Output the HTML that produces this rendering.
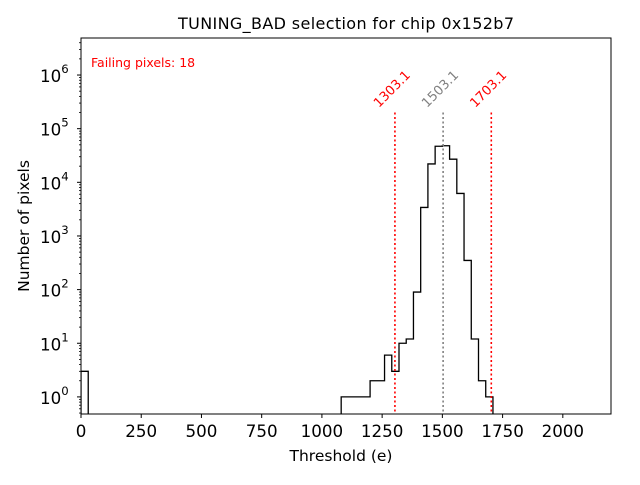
<!DOCTYPE html>
<html><head><meta charset="utf-8"><style>
html,body{margin:0;padding:0;background:#fff}
svg text{font-family:"DejaVu Sans","Liberation Sans",sans-serif}
</style></head><body>
<svg id="chart" width="640" height="480" xmlns="http://www.w3.org/2000/svg">
<rect width="640" height="480" fill="#fff"/>
<text x="346" y="29" text-anchor="middle" font-size="16" textLength="336">TUNING_BAD selection for chip 0x152b7</text>
<text x="341" y="461" text-anchor="middle" font-size="15.5">Threshold (e)</text>
<text transform="translate(29,226) rotate(-90)" text-anchor="middle" font-size="15.5">Number of pixels</text>
<text x="91" y="67" font-size="12.5" fill="red">Failing pixels: 18</text>
<g id="marks"></g>
<g id="axes"></g>
<rect x="81" y="38" width="530" height="376" fill="none" stroke="#000" stroke-width="1"/>
</svg>
<script>
const binEdges = [0,30,1080,1110,1140,1170,1200,1230,1260,1290,1320,1350,1380,1410,1440,1470,1500,1530,1560,1590,1620,1650,1680,1710];
const binCounts = [3,0,1,1,1,1,2,2,6,3,10,12,90,3400,22000,47000,48000,27000,6200,350,12,2,1];
const xTicks = [0,250,500,750,1000,1250,1500,1750,2000];
const yTickExps = [0,1,2,3,4,5,6];
const vLines = [1303.1,1503.1,1703.1];
const vLineColors = ['red','gray','red'];

const X0=81,X1=611,Y0=414,Y1=38,XMAX=2200,YMIN=Math.log10(0.48),YMAX=Math.log10(4.9e6);
const xs=v=>X0+(v/XMAX)*(X1-X0);
const ys=v=>Y0-(Math.log10(Math.max(v,1e-9))-YMIN)/(YMAX-YMIN)*(Y0-Y1);
const NS='http://www.w3.org/2000/svg';
const marks=document.getElementById('marks'), axes=document.getElementById('axes');
function mk(tag,attrs,parent){const e=document.createElementNS(NS,tag);for(const k in attrs)e.setAttribute(k,attrs[k]);parent.appendChild(e);return e;}

let d='';
for(let i=0;i<binCounts.length;i++){
  const c=binCounts[i];
  const xa=xs(binEdges[i]),xb=xs(binEdges[i+1]);
  const y=c>0?ys(c):Y0+2;
  const prev=i>0?binCounts[i-1]:0;
  if(c>0){
    if(prev>0){d+=`L${xa},${y}L${xb},${y}`;}
    else{d+=`M${xa},${Y0+2}L${xa},${y}L${xb},${y}`;}
    const next=i<binCounts.length-1?binCounts[i+1]:0;
    if(next<=0)d+=`L${xb},${Y0+2}`;
  }
}
const cp=mk('clipPath',{id:'clip'},marks);mk('rect',{x:X0,y:Y1,width:X1-X0,height:Y0-Y1},cp);
const hp=mk('path',{d:d,fill:'none',stroke:'#000','stroke-width':1.3,'clip-path':'url(#clip)'},marks);



vLines.forEach((v,i)=>{
  const x=xs(v);
  const l=mk('line',{x1:x,x2:x,y1:ys(2e5),y2:Y0,stroke:vLineColors[i],'stroke-width':1.6,'stroke-dasharray':'2,2.5'},marks);
  
  
  const t=mk('text',{transform:`translate(${x},${92}) rotate(-45)`,'text-anchor':'middle','font-size':13,fill:vLineColors[i]},marks);
  t.textContent=v.toFixed(1);
  
  
});

xTicks.forEach(v=>{
  const x=xs(v);
  mk('line',{x1:x,x2:x,y1:Y0,y2:Y0+4,stroke:'#000'},axes);
  const t=mk('text',{x:x,y:Y0+23,'text-anchor':'middle','font-size':16.7},axes);
  t.textContent=v;
  
  
});
yTickExps.forEach(e=>{
  const y=ys(Math.pow(10,e));
  mk('line',{x1:X0-4,x2:X0,y1:y,y2:y,stroke:'#000'},axes);
  const t=mk('text',{x:X0-41,y:y+7,'text-anchor':'start','font-size':16.7},axes);
  t.textContent='10';
  const s=mk('tspan',{dy:-9,'font-size':11.7},t);s.textContent=e;
  
  
});
for(let e=-1;e<=6;e++){for(let m=2;m<=9;m++){const v=m*Math.pow(10,e);const y=ys(v);if(y<Y1||y>Y0)continue;mk('line',{x1:X0-2,x2:X0,y1:y,y2:y,stroke:'#000','stroke-width':0.8},axes);}}
</script>
</body></html>
